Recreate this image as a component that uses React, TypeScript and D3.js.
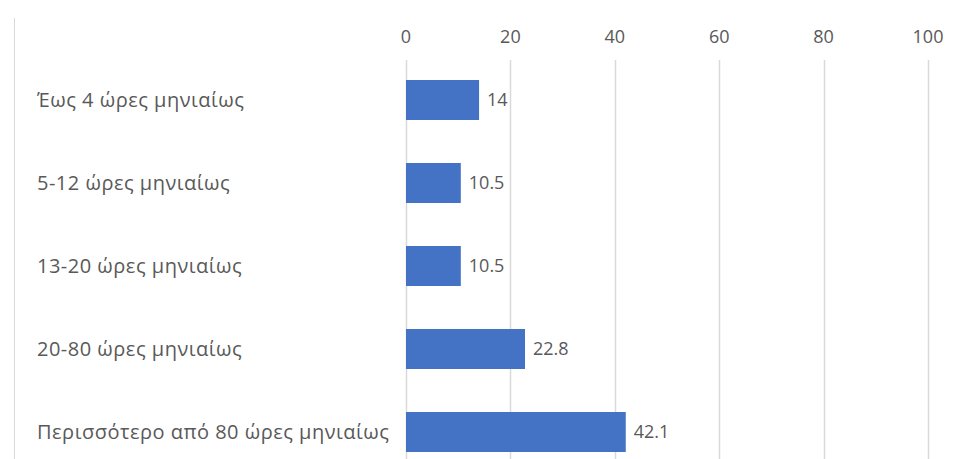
import React from "react";
import * as d3 from "d3";

const categories = [
  "Έως 4 ώρες μηνιαίως",
  "5-12 ώρες μηνιαίως",
  "13-20 ώρες μηνιαίως",
  "20-80 ώρες μηνιαίως",
  "Περισσότερο από 80 ώρες μηνιαίως",
];
const values = [14, 10.5, 10.5, 22.8, 42.1];
const ticks = [0, 20, 40, 60, 80, 100];

const W = 963;
const H = 459;
const FONT = "'Open Sans', 'Noto Sans', sans-serif";
const TEXT = "#595959";

export default function App() {
  const x = d3.scaleLinear().domain([0, 100]).range([406, 928]);
  const y = d3
    .scaleBand<string>()
    .domain(categories)
    .range([37, 495])
    .paddingInner(0.518)
    .paddingOuter(0.518);

  return (
    <svg
      width={W}
      height={H}
      style={{ position: "absolute", left: 0, top: 0, background: "#fff" }}
    >
      {/* chart area left border */}
      <line x1={14.5} x2={14.5} y1={18} y2={H} stroke="#d9d9d9" strokeWidth={1} />

      {/* vertical gridlines */}
      {ticks.map((t) => (
        <line
          key={`g${t}`}
          x1={Math.round(x(t)) + 0.5}
          x2={Math.round(x(t)) + 0.5}
          y1={60}
          y2={H}
          stroke="#d9d9d9"
          strokeWidth={1.5}
        />
      ))}

      {/* value axis labels on top */}
      {ticks.map((t) => (
        <text
          key={`t${t}`}
          x={x(t)}
          y={43}
          textAnchor="middle"
          fontFamily={FONT}
          fontSize={18}
          fill={TEXT}
        >
          {t}
        </text>
      ))}

      {/* bars */}
      {categories.map((c, i) => (
        <rect
          key={`b${c}`}
          x={x(0)}
          y={y(c)!}
          width={x(values[i]) - x(0)}
          height={y.bandwidth()}
          fill="#4472C4"
        />
      ))}

      {/* data labels */}
      {categories.map((c, i) => (
        <text
          key={`v${c}`}
          x={x(values[i]) + 8}
          y={y(c)! + y.bandwidth() / 2}
          dy="0.35em"
          fontFamily={FONT}
          fontSize={18}
          fill={TEXT}
        >
          {values[i]}
        </text>
      ))}

      {/* category labels */}
      {categories.map((c) => (
        <text
          key={`c${c}`}
          x={37}
          y={y(c)! + y.bandwidth() / 2}
          dy="0.35em"
          fontFamily={FONT}
          fontSize={20}
          letterSpacing={0.5}
          fill={TEXT}
        >
          {c}
        </text>
      ))}
    </svg>
  );
}
